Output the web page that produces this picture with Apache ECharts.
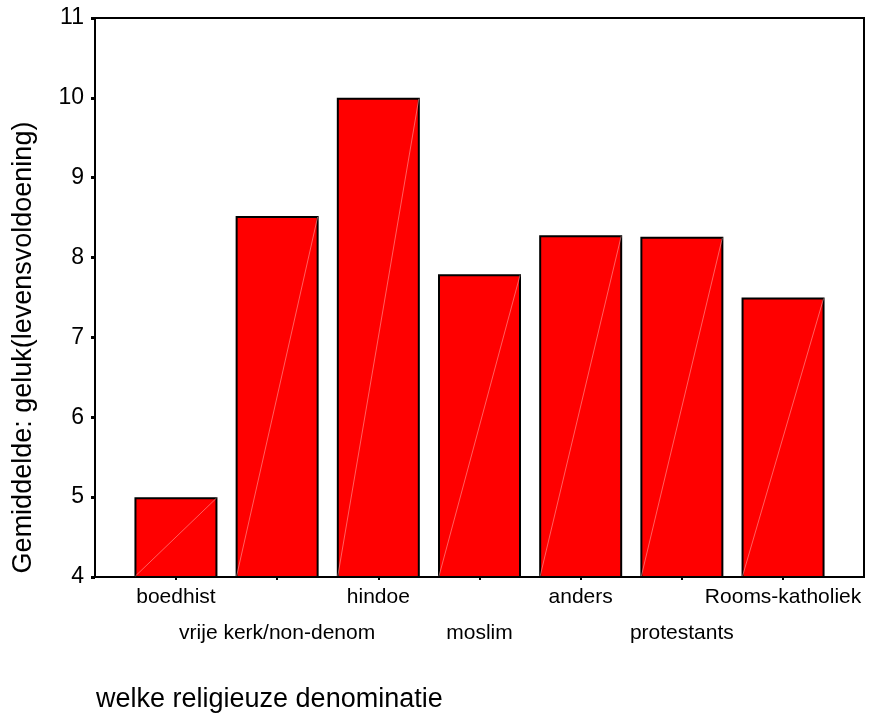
<!DOCTYPE html>
<html>
<head>
<meta charset="utf-8">
<script src="https://cdn.jsdelivr.net/npm/echarts@6/dist/echarts.min.js"></script>
<style>html,body{margin:0;padding:0;background:#fff;}#c{width:871px;height:713px;}</style>
</head>
<body>
<div id="c"></div>
<script>
var categories = ['boedhist', 'vrije kerk/non-denom', 'hindoe', 'moslim', 'anders', 'protestants', 'Rooms-katholiek'];
var values = [5.0, 8.52, 10.0, 7.79, 8.28, 8.26, 7.5];
var yTicks = [4, 5, 6, 7, 8, 9, 10, 11];
var yTitle = 'Gemiddelde: geluk(levensvoldoening)';
var xTitle = 'welke religieuze denominatie';

var FONT = '"Liberation Sans", Arial, Helvetica, sans-serif';
var BAR_W = 83;
var idx = categories.map(function (c, i) { return i; });
var evenIdx = idx.filter(function (i) { return i % 2 === 0; });
var oddIdx = idx.filter(function (i) { return i % 2 === 1; });
var labelFmt = function (v) { return categories[Math.round(v)]; };
var labelBase = {
  color: '#000', hideOverlap: false, showMinLabel: true, showMaxLabel: true,
  fontFamily: FONT, fontSize: 21, lineHeight: 36, formatter: labelFmt
};
var chart = echarts.init(document.getElementById('c'), null, {renderer: 'canvas'});
chart.setOption({
  animation: false,
  backgroundColor: '#fff',
  title: {
    text: xTitle, left: 96, top: 686, padding: 0,
    textStyle: {fontFamily: FONT, fontSize: 27, fontWeight: 'normal', color: '#000'}
  },
  grid: {
    left: 95, top: 18, right: 7, bottom: 136,
    show: true, borderColor: '#000', borderWidth: 2, backgroundColor: 'transparent'
  },
  xAxis: [{
    type: 'value', min: -0.8, max: 6.8, position: 'bottom',
    splitLine: {show: false},
    axisLine: {show: true, onZero: false, lineStyle: {color: '#000', width: 2}},
    axisTick: {show: true, customValues: idx, length: 3, lineStyle: {color: '#000', width: 2}},
    axisLabel: Object.assign({customValues: evenIdx, margin: 2}, labelBase)
  }, {
    type: 'value', min: -0.8, max: 6.8, position: 'bottom', offset: 0,
    splitLine: {show: false},
    axisLine: {show: false, onZero: false},
    axisTick: {show: false},
    axisLabel: Object.assign({customValues: oddIdx, margin: 38}, labelBase)
  }],
  yAxis: {
    type: 'value', min: yTicks[0], max: yTicks[yTicks.length - 1], interval: 1,
    name: yTitle, nameLocation: 'middle', nameGap: 58,
    nameTextStyle: {fontFamily: FONT, fontSize: 27, color: '#000', padding: [0, 100, 0, 0]},
    splitLine: {show: false},
    axisLine: {show: true, onZero: false, lineStyle: {color: '#000', width: 2}},
    axisTick: {show: true, length: 4, lineStyle: {color: '#000', width: 3}},
    axisLabel: {margin: 11, color: '#000', fontFamily: FONT, fontSize: 23}
  },
  series: [{
    type: 'bar',
    data: values.map(function (v, i) { return [i, v]; }),
    barWidth: BAR_W,
    itemStyle: {color: '#ff0000', borderColor: '#000', borderWidth: 2}
  }, {
    type: 'custom',
    silent: true,
    data: values.map(function (v, i) { return [i, v]; }),
    renderItem: function (params, api) {
      var top = api.coord([api.value(0), api.value(1)]);
      var bot = api.coord([api.value(0), yTicks[0]]);
      var h = BAR_W / 2 - 1;
      return {
        type: 'line',
        shape: {x1: bot[0] - h, y1: bot[1] - 1, x2: top[0] + h, y2: top[1] + 1},
        style: {stroke: 'rgba(255,170,170,0.7)', lineWidth: 0.8}
      };
    },
    z: 3
  }]
});
</script>
</body>
</html>
